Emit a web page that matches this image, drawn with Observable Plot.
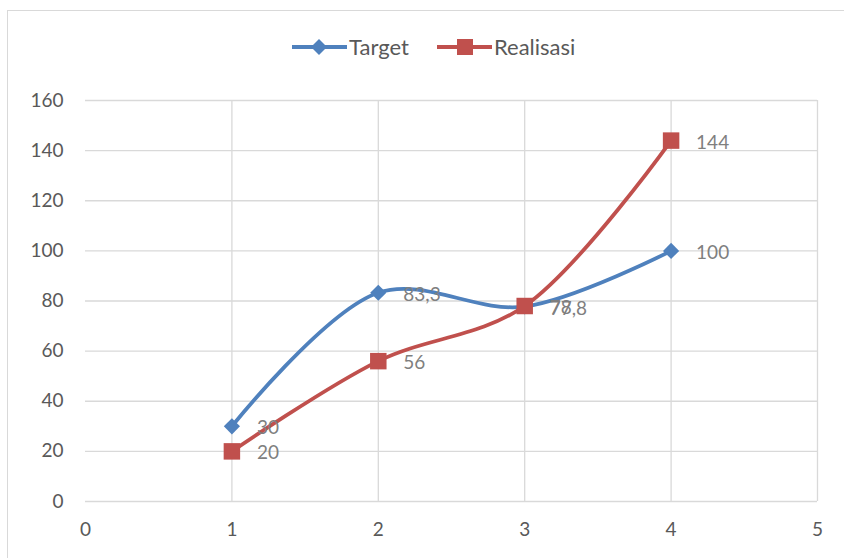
<!DOCTYPE html>
<html><head><meta charset="utf-8">
<script src="https://cdn.jsdelivr.net/npm/d3@7"></script>
<script src="https://cdn.jsdelivr.net/npm/@observablehq/plot@0.6"></script>
<style>
html,body{margin:0;padding:0;background:#fff;}
#wrap{position:relative;width:844px;height:558px;overflow:hidden;font-family:Lato,"Open Sans",sans-serif;}
#border{position:absolute;left:7px;top:10px;width:900px;height:700px;border:1px solid #d9d9d9;box-sizing:border-box;}
#legend{position:absolute;left:0;top:32px;width:844px;height:30px;}
#chart{position:absolute;left:0;top:0;}
</style></head>
<body>
<div id="wrap"><div id="border"></div><div id="chart"></div><svg id="legend" width="844" height="30"></svg></div>
<script>
const xs = [1, 2, 3, 4];
const target = [30, 83.3, 77.8, 100];
const realisasi = [20, 56, 78, 144];
const seriesNames = ["Target", "Realisasi"];
const colors = ["#4f81bd", "#c0504d"];
const xTicks = [0, 1, 2, 3, 4, 5];
const yTicks = [0, 20, 40, 60, 80, 100, 120, 140, 160];

const tData = xs.map((x, i) => ({x, y: target[i], s: seriesNames[0]}));
const rData = xs.map((x, i) => ({x, y: realisasi[i], s: seriesNames[1]}));
const fmt = v => String(v).replace(".", ",");
const font = "Lato, 'Open Sans', sans-serif";

const plot = Plot.plot({
  width: 844, height: 558,
  marginLeft: 85, marginRight: 27, marginTop: 100, marginBottom: 57,
  style: {fontFamily: font, fontSize: "19px", color: "#595959", background: "transparent"},
  x: {domain: [0, 5], ticks: xTicks, label: null},
  y: {domain: [0, 160], ticks: yTicks, label: null},
  marks: [
    Plot.ruleX([1, 2, 3, 4, 5], {stroke: "#d9d9d9", strokeWidth: 1.3, strokeOpacity: 1}),
    Plot.ruleY(yTicks, {stroke: "#d9d9d9", strokeWidth: 1.3, strokeOpacity: 1}),
    Plot.axisX({ticks: xTicks, tickFormat: d => String(d), tickSize: 0, tickPadding: 21, fontSize: 19, fill: "#595959"}),
    Plot.axisY({ticks: yTicks, tickFormat: d => String(d), tickSize: 0, tickPadding: 22, fontSize: 19, fill: "#595959"}),
    Plot.line(tData, {x: "x", y: "y", stroke: colors[0], strokeWidth: 3.8, curve: "catmull-rom"}),
    Plot.line(rData, {x: "x", y: "y", stroke: colors[1], strokeWidth: 3.8, curve: "catmull-rom"}),
    Plot.dot(tData, {x: "x", y: "y", symbol: "diamond2", r: 7.3, fill: colors[0], stroke: "none"}),
    Plot.dot(rData, {x: "x", y: "y", symbol: "square", r: 9.3, fill: colors[1], stroke: "none"}),
    Plot.text(tData, {x: "x", y: "y", text: d => fmt(d.y), dx: 25, dy: 2, textAnchor: "start", fill: "#7f7f7f", fontSize: 19}),
    Plot.text(rData, {x: "x", y: "y", text: d => fmt(d.y), dx: 25, dy: 2, textAnchor: "start", fill: "#7f7f7f", fontSize: 19})
  ]
});
document.getElementById("chart").appendChild(plot);

// legend
const lg = d3.select("#legend");
const items = [
  {name: seriesNames[0], color: colors[0], x0: 292, sym: "diamond"},
  {name: seriesNames[1], color: colors[1], x0: 437, sym: "square"}
];
items.forEach(it => {
  const g = lg.append("g").attr("transform", `translate(${it.x0},15)`);
  g.append("line").attr("x1", 0).attr("x2", 55).attr("y1", 0).attr("y2", 0)
    .attr("stroke", it.color).attr("stroke-width", 3.8);
  if (it.sym === "diamond") {
    g.append("path").attr("d", "M27,-8L35,0L27,8L19,0Z").attr("fill", it.color);
  } else {
    g.append("rect").attr("x", 20).attr("y", -8).attr("width", 16).attr("height", 16).attr("fill", it.color);
  }
  g.append("text").attr("x", 57).attr("y", 0).attr("dy", "0.36em")
    .attr("font-family", font).attr("font-size", 22).attr("fill", "#595959").text(it.name);
});
</script>
</body></html>
